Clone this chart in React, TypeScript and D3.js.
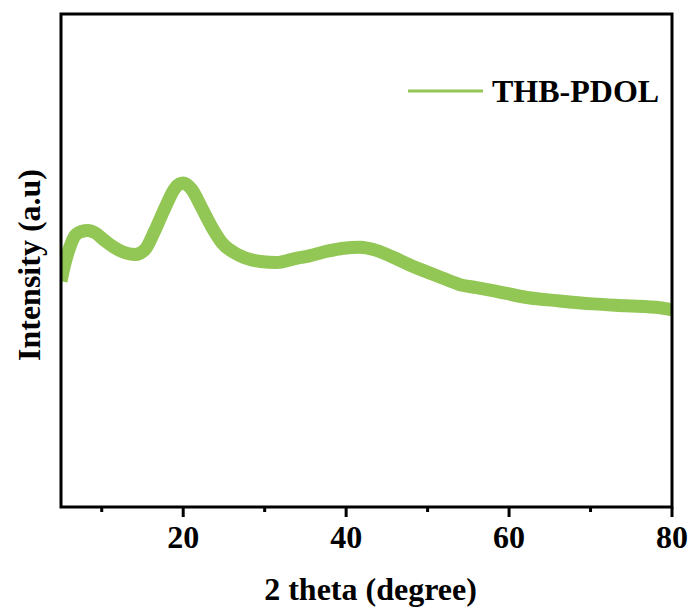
import React from "react";
import * as d3 from "d3";

const twoTheta = [5.0, 5.5, 6.0, 6.7, 7.5, 8.3, 9.2, 10.4, 11.5, 12.5, 14.1, 15.3, 16.5, 17.8, 19.0, 20.0, 21.0, 22.3, 23.5, 24.8, 26.7, 29.5, 31.5, 33.5, 35.6, 37.7, 39.7, 41.7, 43.8, 45.7, 47.8, 49.9, 51.9, 54.0, 56.0, 58.0, 62.2, 66.2, 70.3, 74.4, 78.5, 80.0];
const intensity = [458, 495, 523, 550, 559, 561, 556, 540, 527, 518, 512, 522, 560, 608, 647, 657, 645, 606, 568, 535, 512, 498, 496, 503, 510, 519, 525, 527, 520, 507, 491, 477, 464, 451, 445, 439, 425, 418, 412, 408, 404, 400];
const majorTicks = [20, 40, 60, 80];
const minorTicks = [10, 30, 50, 70];
const seriesName = "THB-PDOL";
const xTitle = "2 theta (degree)";
const yTitle = "Intensity (a.u)";

const W = 694, H = 613;
const L = 61, R = 672, T = 14, B = 507;
const FONT = "'Liberation Serif', 'Times New Roman', serif";
const GREEN = "#92c655";

export default function App() {
  const x = d3.scaleLinear().domain([5, 80]).range([L, R]);
  const y = d3.scaleLinear().domain([0, 1000]).range([B, T]);
  const pts = twoTheta.map((t, i) => [t, intensity[i]] as [number, number]);
  const line = d3.line<[number, number]>()
    .x(d => x(d[0]))
    .y(d => y(d[1]))
    .curve(d3.curveMonotoneX);
  return (
    <svg width={W} height={H} style={{ position: "absolute", left: 0, top: 0, background: "#fff" }}>
      <defs>
        <clipPath id="plot">
          <rect x={L} y={T} width={R - L} height={B - T} />
        </clipPath>
      </defs>
      <path d={line(pts) || ""} fill="none" stroke={GREEN} strokeWidth={13} strokeLinejoin="round" strokeLinecap="butt" clipPath="url(#plot)" />
      <rect x={L} y={T} width={R - L} height={B - T} fill="none" stroke="#000" strokeWidth={3} />
      {majorTicks.map(t => (
        <g key={"M" + t}>
          <line x1={x(t)} x2={x(t)} y1={B} y2={B + 10} stroke="#000" strokeWidth={3} />
          <text x={x(t)} y={548} textAnchor="middle" fontFamily={FONT} fontWeight="bold" fontSize={32}>{t}</text>
        </g>
      ))}
      {minorTicks.map(t => (
        <line key={"m" + t} x1={x(t)} x2={x(t)} y1={B} y2={B + 5} stroke="#000" strokeWidth={3} />
      ))}
      <text x={(L + R) / 2 + 4} y={600} textAnchor="middle" fontFamily={FONT} fontWeight="bold" fontSize={32}>{xTitle}</text>
      <text transform={`translate(40,265) rotate(-90)`} textAnchor="middle" fontFamily={FONT} fontWeight="bold" fontSize={32}>{yTitle}</text>
      <line x1={408} x2={483} y1={91} y2={91} stroke={GREEN} strokeWidth={3} />
      <text x={492} y={102} fontFamily={FONT} fontWeight="bold" fontSize={32}>{seriesName}</text>
    </svg>
  );
}
